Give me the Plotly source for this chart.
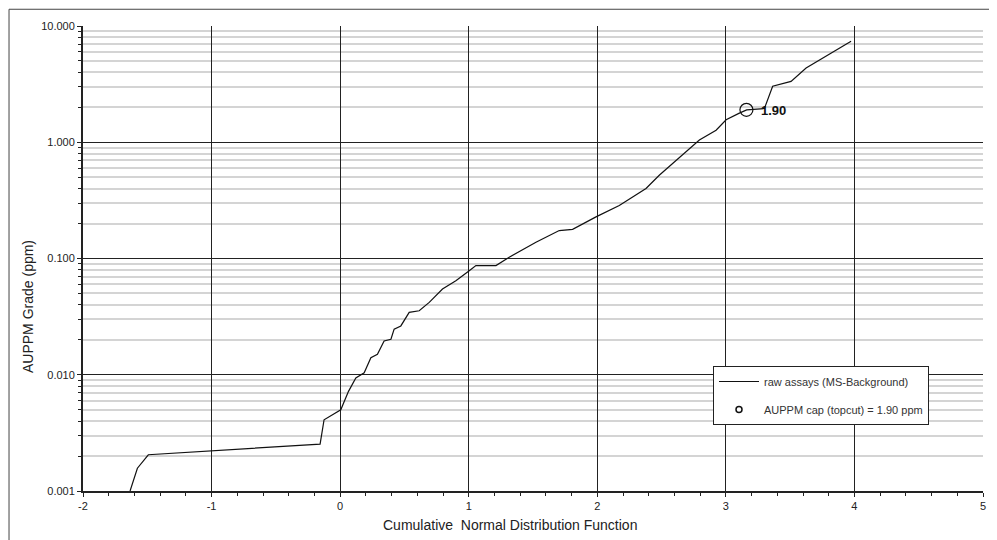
import math
import plotly.graph_objects as go

# Cumulative normal distribution (z) vs AUPPM grade (ppm)
cnd_z = [-1.634, -1.577, -1.492, -0.156, -0.125, 0.005, 0.065, 0.122, 0.187, 0.239,
         0.290, 0.342, 0.395, 0.420, 0.472, 0.537, 0.615, 0.693, 0.796, 0.900,
         1.004, 1.056, 1.212, 1.315, 1.523, 1.704, 1.808, 1.990, 2.171, 2.379,
         2.482, 2.690, 2.794, 2.924, 3.002, 3.105, 3.162, 3.300, 3.364, 3.507,
         3.624, 3.974]
grade_ppm = [0.0010, 0.00157, 0.00205, 0.00253, 0.0041, 0.0050, 0.0072, 0.0094, 0.0104, 0.0140,
             0.0150, 0.0195, 0.0202, 0.0247, 0.0263, 0.0344, 0.0355, 0.0419, 0.0546, 0.0644,
             0.0786, 0.0869, 0.0869, 0.1026, 0.138, 0.174, 0.178, 0.228, 0.286, 0.400,
             0.520, 0.83, 1.045, 1.27, 1.56, 1.78, 1.90, 1.95, 3.03, 3.34,
             4.35, 7.40]

cap_z = [3.16]
cap_ppm = [1.90]
cap_label = "1.90"

x_tickvals = [-2, -1, 0, 1, 2, 3, 4, 5]
x_ticktext = ["-2", "-1", "0", "1", "2", "3", "4", "5"]
y_tickvals = [0.001, 0.01, 0.1, 1, 10]
y_ticktext = ["0.001", "0.010", "0.100", "1.000", "10.000"]
y_minor = [m * 10 ** e for e in range(-3, 1) for m in range(2, 10)]

FONT = "Liberation Sans, Arial, sans-serif"

fig = go.Figure()
fig.add_trace(go.Scatter(
    x=cnd_z, y=grade_ppm, mode="lines", name="raw assays (MS-Background)",
    line=dict(color="#111111", width=1.2), legendgroup="a"))
fig.add_trace(go.Scatter(
    x=cap_z, y=cap_ppm, mode="markers", showlegend=False,
    marker=dict(symbol="circle-open", size=13, color="#111111", line=dict(width=1.2))))
fig.add_trace(go.Scatter(
    x=[None], y=[None], mode="markers", name="AUPPM cap (topcut) = 1.90 ppm",
    marker=dict(symbol="circle-open", size=6, color="#111111", line=dict(width=1.5)),
    legendgroup="b"))

fig.add_annotation(x=cap_z[0], y=math.log10(cap_ppm[0]), xref="x", yref="y",
                   text="<b>" + cap_label + "</b>",
                   showarrow=False, xanchor="left", xshift=13, yshift=-1,
                   font=dict(family=FONT, size=13, color="#111111"))

# axis titles (offset as in the original chart)
fig.add_annotation(x=-0.0611, y=0.3957, xref="paper", yref="paper", text="AUPPM Grade (ppm)",
                   textangle=-90, showarrow=False, xanchor="center", yanchor="middle",
                   font=dict(family=FONT, size=14, color="#222222"))
fig.add_annotation(x=0.474, y=-0.0731, xref="paper", yref="paper",
                   text="Cumulative  Normal Distribution Function",
                   showarrow=False, xanchor="center", yanchor="middle",
                   font=dict(family=FONT, size=14, color="#222222"))

# outer chart border (left and top visible)
fig.add_shape(type="line", xref="paper", yref="paper", x0=-0.0822, x1=-0.0822, y0=-0.2, y1=1.036,
              line=dict(color="#444444", width=1))
fig.add_shape(type="line", xref="paper", yref="paper", x0=-0.0822, x1=1.1, y0=1.036, y1=1.036,
              line=dict(color="#444444", width=1))

fig.update_layout(
    width=997, height=540,
    margin=dict(l=75, r=22, t=18, b=57),
    paper_bgcolor="white", plot_bgcolor="white",
    font=dict(family=FONT, size=10, color="#222222"),
    showlegend=True,
    legend=dict(x=0.70, y=0.2688, xanchor="left", yanchor="top",
                bordercolor="#222222", borderwidth=1, bgcolor="white",
                font=dict(family=FONT, size=11, color="#333333"),
                traceorder="grouped", tracegroupgap=9, itemwidth=40),
    xaxis=dict(range=[-2, 5], tickmode="array", tickvals=x_tickvals, ticktext=x_ticktext,
               showgrid=True, gridcolor="#222222", gridwidth=1,
               zeroline=False, showline=True, linecolor="#222222", linewidth=2,
               ticks="outside", ticklen=4, tickcolor="#222222",
               minor=dict(tickmode="linear", tick0=0, dtick=0.2, ticks="outside", ticklen=3,
                          tickcolor="#222222", showgrid=False),
               tickfont=dict(family=FONT, size=11, color="#222222")),
    yaxis=dict(type="log", range=[-3, 1], tickmode="array", tickvals=y_tickvals, ticktext=y_ticktext,
               showgrid=True, gridcolor="#222222", gridwidth=1, zeroline=False,
               showline=True, linecolor="#222222", linewidth=2,
               ticks="outside", ticklen=4, tickcolor="#222222",
               minor=dict(tickmode="array", tickvals=y_minor, ticks="outside", ticklen=3,
                          tickcolor="#222222", showgrid=True, gridcolor="#d4d4d4", gridwidth=1.5),
               tickfont=dict(family=FONT, size=11, color="#222222")),
)

fig.write_html("out.html")
